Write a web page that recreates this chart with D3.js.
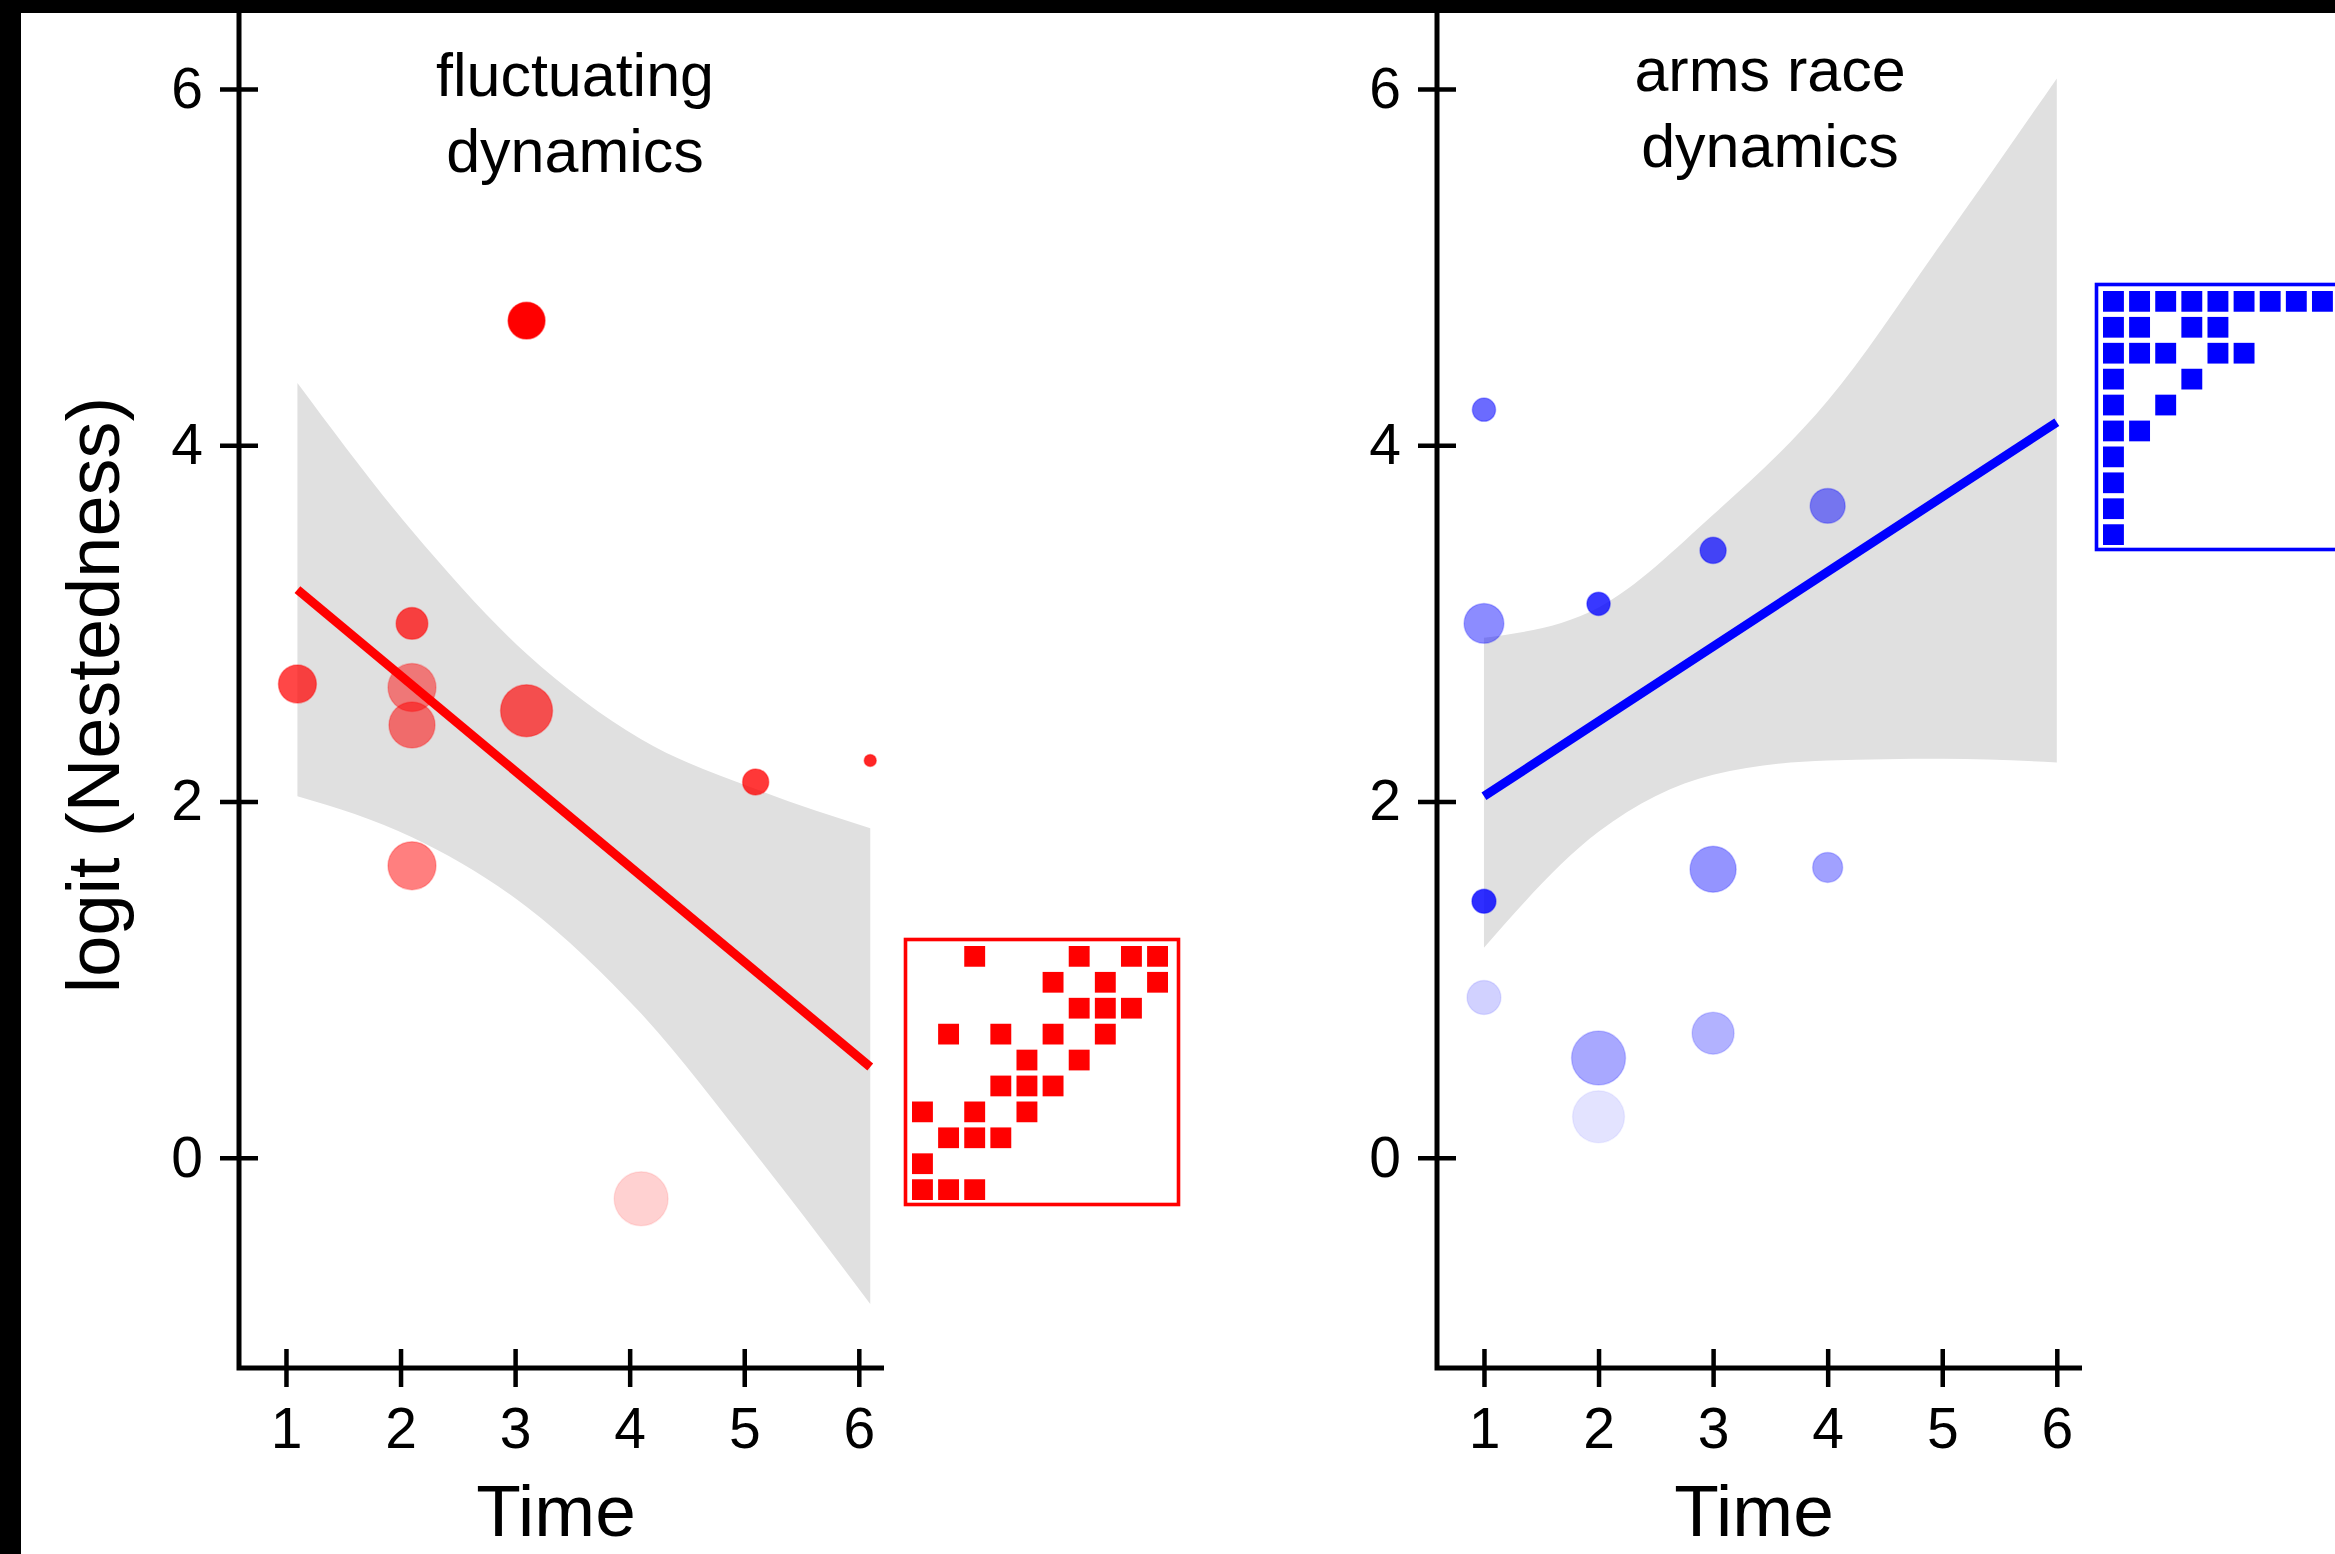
<!DOCTYPE html>
<html>
<head>
<meta charset="utf-8">
<script src="https://cdn.jsdelivr.net/npm/d3@7"></script>
<style>
  body { margin: 0; background: #fff; }
  svg { display: block; font-family: "Liberation Sans", Arial, sans-serif; }
</style>
</head>
<body>
<script>
const width = 2335,
    height = 1554;

// shared axes
const timeTicks = [1, 2, 3, 4, 5, 6];
const yTicks = [0, 2, 4, 6];

// fluctuating dynamics (red)
const fluctTime  = [1.1, 2.1, 2.1, 2.1, 2.1, 3.1, 3.1, 4.1, 5.1, 6.1];
const fluctValue = [2.66, 3.00, 2.64, 2.43, 1.64, 4.70, 2.51, -0.23, 2.11, 2.23];
const fluctWeight = [40, 28, 64, 59, 64, 38, 75, 81, 19, 4];
const fluctShade = [0.72, 0.72, 0.47, 0.52, 0.5, 1.0, 0.65, 0.18, 0.78, 0.85];
const fluctFitTime = [1.1, 6.1];
const fluctFitValue = [3.19, 0.51];
const fluctBandTime = [1.1, 2.1, 3.1, 4.1, 5.1, 6.1];
const fluctBandUpper = [4.35, 3.52, 2.83, 2.35, 2.07, 1.85];
const fluctBandLower = [2.03, 1.80, 1.41, 0.81, 0.02, -0.82];
const fluctMatrix = [
    "0010001011",
    "0000010101",
    "0000001110",
    "0101010100",
    "0000101000",
    "0001110000",
    "1010100000",
    "0111000000",
    "1000000000",
    "1110000000"
];

// arms race dynamics (blue)
const armsTime  = [1, 1, 1, 1, 2, 2, 2, 3, 3, 3, 4, 4];
const armsValue = [4.20, 3.00, 1.44, 0.90, 3.11, 0.56, 0.23, 3.41, 1.62, 0.70, 3.66, 1.63];
const armsWeight = [15, 44, 16, 32, 15, 81, 75, 19, 59, 49, 34, 25];
const armsShade = [0.58, 0.45, 0.82, 0.18, 0.78, 0.34, 0.11, 0.7, 0.42, 0.3, 0.48, 0.37];
const armsFitTime = [1, 6];
const armsFitValue = [2.03, 4.13];
const armsBandTime = [1, 2, 3, 4, 5, 6];
const armsBandUpper = [2.92, 3.09, 3.61, 4.25, 5.14, 6.06];
const armsBandLower = [1.18, 1.83, 2.15, 2.23, 2.24, 2.22];
const armsMatrix = [
    "1111111111",
    "1101100000",
    "1110110000",
    "1001000000",
    "1010000000",
    "1100000000",
    "1000000000",
    "1000000000",
    "1000000000",
    "1000000000"
];

const panels = [
    {
        title: ["fluctuating", "dynamics"], titleY: [96, 172], titleDx: 336,
        color: "#ff0000", x0: 239,
        time: fluctTime, value: fluctValue, weight: fluctWeight, shade: fluctShade,
        fitTime: fluctFitTime, fitValue: fluctFitValue,
        bandTime: fluctBandTime, upper: fluctBandUpper, lower: fluctBandLower,
        matrix: fluctMatrix, gx: 912, gy: 946
    },
    {
        title: ["arms race", "dynamics"], titleY: [91, 167], titleDx: 333,
        color: "#0000ff", x0: 1437,
        time: armsTime, value: armsValue, weight: armsWeight, shade: armsShade,
        fitTime: armsFitTime, fitValue: armsFitValue,
        bandTime: armsBandTime, upper: armsBandUpper, lower: armsBandLower,
        matrix: armsMatrix, gx: 2103, gy: 291
    }
];

const svg = d3.select("body")
    .append("svg")
    .attr("width", width)
    .attr("height", height)
    .attr("viewBox", `0 0 ${width} ${height}`);

const axisBottom = 1368;
const y = d3.scaleLinear().domain([-1.18, 6.5]).range([axisBottom, 0]);
const size = d3.scaleSqrt().domain([0, 100]).range([0, 30]);
const alpha = d3.scaleLinear().domain([0, 1]).range([0, 1]);

// nestedness matrix cells
const cellX = d3.scaleBand().domain(d3.range(10)).range([0, 256]).paddingInner(0.2);
const cellY = d3.scaleBand().domain(d3.range(10)).range([0, 254]).paddingInner(0.2);

panels.forEach(p => {
    const x = d3.scaleLinear().domain([0.59, 6.22]).range([p.x0, p.x0 + 645]);
    const g = svg.append("g");

    // confidence band
    const band = p.bandTime.map((t, i) => ({ t, hi: p.upper[i], lo: p.lower[i] }));
    g.append("path")
        .datum(band)
        .attr("fill", "#e0e0e0")
        .attr("d", d3.area()
            .x(d => x(d.t))
            .y0(d => y(d.lo))
            .y1(d => y(d.hi))
            .curve(d3.curveMonotoneX));

    // points
    const pts = p.time.map((t, i) => ({ t, v: p.value[i], w: p.weight[i], s: p.shade[i] }));
    g.selectAll("circle")
        .data(pts)
        .join("circle")
        .attr("cx", d => x(d.t))
        .attr("cy", d => y(d.v))
        .attr("r", d => size(d.w))
        .attr("fill", p.color)
        .attr("fill-opacity", d => alpha(d.s))
        .attr("stroke", p.color)
        .attr("stroke-opacity", d => alpha(d.s) * 0.5)
        .attr("stroke-width", 1.5);

    // fitted line
    g.append("path")
        .datum(p.fitTime.map((t, i) => ({ t, v: p.fitValue[i] })))
        .attr("fill", "none")
        .attr("stroke", p.color)
        .attr("stroke-width", 9)
        .attr("d", d3.line().x(d => x(d.t)).y(d => y(d.v)));

    // axes
    const yAxis = g.append("g")
        .attr("transform", `translate(${p.x0},0)`)
        .call(d3.axisLeft(y).tickValues(yTicks).tickFormat(d3.format("d"))
            .tickSize(19).tickSizeOuter(0).tickPadding(17));
    yAxis.selectAll(".tick line").attr("x1", 19).attr("stroke-width", 4.5);

    const xAxis = g.append("g")
        .attr("transform", `translate(0,${axisBottom})`)
        .call(d3.axisBottom(x).tickValues(timeTicks).tickFormat(d3.format("d"))
            .tickSize(19).tickSizeOuter(0).tickPadding(21));
    xAxis.selectAll(".tick line").attr("y1", -19).attr("stroke-width", 4.5);

    [yAxis, xAxis].forEach(a => {
        a.select(".domain").remove();
        a.selectAll("text")
            .attr("font-family", "Liberation Sans, Arial, sans-serif")
            .attr("font-size", 57)
            .attr("fill", "#000");
    });

    g.append("path")
        .attr("d", `M${p.x0},0V${axisBottom}H${x.range()[1]}`)
        .attr("fill", "none")
        .attr("stroke", "#000")
        .attr("stroke-width", 5);

    // panel title
    const title = g.append("text")
        .attr("text-anchor", "middle")
        .attr("font-size", 61)
        .attr("fill", "#000");
    p.title.forEach((line, i) => {
        title.append("tspan")
            .attr("x", p.x0 + p.titleDx)
            .attr("y", p.titleY[i])
            .text(line);
    });

    g.append("text")
        .text("Time")
        .attr("x", p.x0 + 317)
        .attr("y", 1536)
        .attr("text-anchor", "middle")
        .attr("font-size", 73)
        .attr("fill", "#000");

    // inset matrix
    const inset = g.append("g").attr("transform", `translate(${p.gx},${p.gy})`);
    inset.append("rect")
        .attr("x", -6.5).attr("y", -6.5)
        .attr("width", 273).attr("height", 265)
        .attr("fill", "#fff")
        .attr("stroke", p.color)
        .attr("stroke-width", 3.6);

    const cells = [];
    p.matrix.forEach((row, r) => {
        row.split("").forEach((c, k) => { if (c === "1") cells.push({ r, k }); });
    });
    inset.selectAll(".cell")
        .data(cells)
        .join("rect")
        .attr("class", "cell")
        .attr("x", d => cellX(d.k))
        .attr("y", d => cellY(d.r))
        .attr("width", cellX.bandwidth())
        .attr("height", cellY.bandwidth())
        .attr("fill", p.color);
});

svg.append("text")
    .text("logit (Nestedness)")
    .attr("transform", "translate(119,695) rotate(-90)")
    .attr("text-anchor", "middle")
    .attr("font-size", 74)
    .attr("fill", "#000");

// black frame edges of the original figure
svg.append("rect").attr("x", 0).attr("y", 0).attr("width", width).attr("height", 13).attr("fill", "#000");
svg.append("rect").attr("x", 0).attr("y", 0).attr("width", 21).attr("height", height).attr("fill", "#000");
</script>
</body>
</html>
